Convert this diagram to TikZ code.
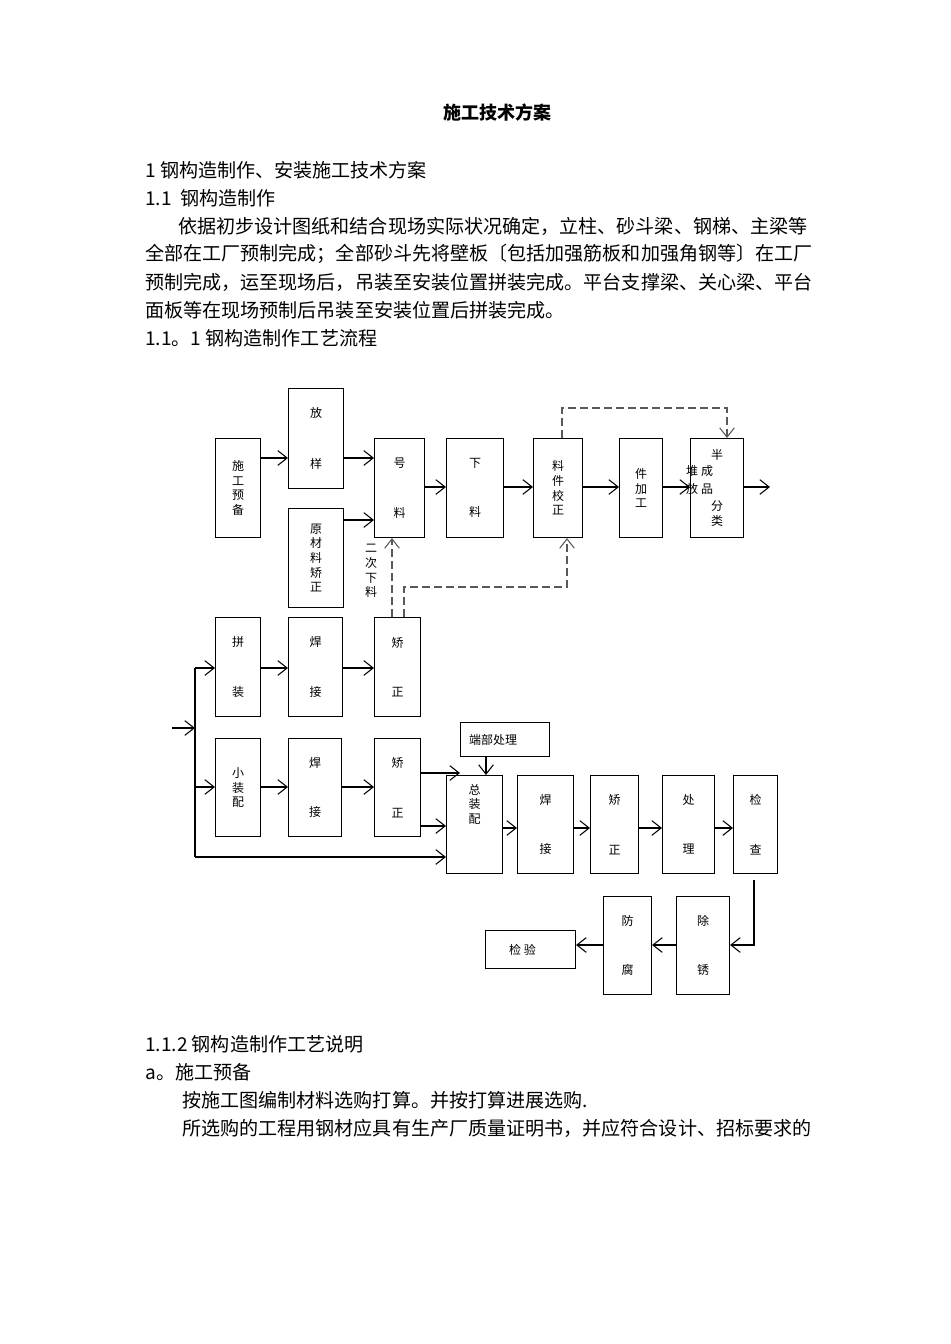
\documentclass[tikz,border=0pt]{standalone}
\usepackage{fontspec}
\setmainfont{Liberation Serif}
\newfontfamily\cjk{Noto Sans CJK SC}
\usetikzlibrary{arrows.meta}
\tikzset{
 box/.style={draw,thick,anchor=north west,inner sep=0pt,align=center,font=\cjk\fontsize{9}{11}\selectfont},
 arr/.style={draw,thick,-{Straight Barb[length=7pt,width=11pt]}},
 dsh/.style={draw,thick,dashed,dash pattern=on 6pt off 3pt,gray!70!black},
 dshar/.style={dsh,-{Straight Barb[length=7pt,width=11pt]}},
 body/.style={anchor=west,inner sep=0pt,font=\cjk\fontsize{14.3}{16}\selectfont},
 sm/.style={inner sep=0pt,font=\cjk\fontsize{9}{11}\selectfont}
}
\newcommand\bx[6]{\node[box,minimum width={(#4-#2)*0.75pt},minimum height={(#5-#3)*0.75pt}] (#1) at (#2,#3) {#6};}
\begin{document}
\begin{tikzpicture}[x=0.75pt,y=-0.75pt]
\useasboundingbox (0,0) rectangle (950,1344);
\node[font=\cjk\bfseries\fontsize{13.5}{15}\selectfont] (title) at (497,113) {施工技术方案};
\node[body] (l1) at (145,170) {1 钢构造制作、安装施工技术方案};
\node[body] (l2) at (145,198) {1.1\ \ 钢构造制作};
\node[body] (l3) at (178,226) {依据初步设计图纸和结合现场实际状况确定，立柱、砂斗梁、钢梯、主梁等};
\node[body] (l4) at (145,254) {全部在工厂预制完成；全部砂斗先将壁板〔包括加强筋板和加强角钢等〕在工厂};
\node[body] (l5) at (145,282) {预制完成，运至现场后，吊装至安装位置拼装完成。平台支撑梁、关心梁、平台};
\node[body] (l6) at (145,310) {面板等在现场预制后吊装至安装位置后拼装完成。};
\node[body] (l7) at (145,338) {1.1。1 钢构造制作工艺流程};
\node[body] (l8) at (145,1044) {1.1.2 钢构造制作工艺说明};
\node[body] (l9) at (145,1072) {a。施工预备};
\node[body] (l10) at (182,1100) {按施工图编制材料选购打算。并按打算进展选购.};
\node[body] (l11) at (182,1128) {所选购的工程用钢材应具有生产厂质量证明书，并应符合设计、招标要求的};
% row 1
\bx{sg}{215}{438}{260}{537}{施\\工\\预\\备}
\bx{fy}{288}{388}{343}{488}{放\\[27pt]样}
\bx{ycl}{288}{508}{343}{607}{原\\材\\料\\矫\\正}
\bx{hl}{374}{438}{424}{537}{号\\[26pt]料}
\bx{xl}{446}{438}{503}{537}{下\\[26pt]料}
\bx{ljjz}{533}{438}{582}{537}{料\\件\\校\\正}
\bx{jjg}{619}{438}{662}{537}{件\\加\\工}
\bx{bcp}{690}{438}{743}{537}{}
\node[sm] (t1) at (717,455) {半};
\node[sm] (t2) at (707,471) {成};
\node[sm] (t3) at (707,489) {品};
\node[sm] (t4) at (692,471) {堆};
\node[sm] (t5) at (692,489) {放};
\node[sm] (t6) at (717,506) {分};
\node[sm] (t7) at (717,521) {类};
\coordinate (out1) at (770,487);
\draw[arr] (sg.east|-0,458) -- (fy.west|-0,458);
\draw[arr] (fy.east|-0,458) -- (hl.west|-0,458);
\draw[arr] (ycl.east|-0,520) -- (hl.west|-0,520);
\draw[arr] (hl.east|-0,487) -- (xl.west|-0,487);
\draw[arr] (xl.east|-0,487) -- (ljjz.west|-0,487);
\draw[arr] (ljjz.east|-0,487) -- (jjg.west|-0,487);
\draw[arr] (jjg.east|-0,487) -- (bcp.west|-0,487);
\draw[arr] (bcp.east|-0,487) -- (out1);
\draw[dshar] (ljjz.north-|562,0) -- (562,408) -- (727,408) -- (bcp.north-|727,0);
% row 2
\bx{pz}{215}{617}{260}{716}{拼\\[26pt]装}
\bx{hj1}{288}{617}{342}{716}{焊\\[26pt]接}
\bx{jz1}{374}{617}{420}{716}{矫\\[26pt]正}
\draw[dshar] (jz1.north-|392,0) -- (hl.south-|392,0);
\draw[dshar] (jz1.north-|404,0) -- (404,587) -- (567,587) -- (ljjz.south-|567,0);
\node[sm,align=center] (ecxl) at (371,571) {二\\次\\下\\料};
% row 3
\bx{xzp}{215}{738}{260}{836}{小\\装\\配}
\bx{hj2}{288}{738}{341}{836}{焊\\[26pt]接}
\bx{jz2}{374}{738}{420}{836}{矫\\[26pt]正}
\bx{dbcl}{460}{722}{549}{756}{\hspace*{-18pt}端部处理}
\coordinate (in0) at (172,728);
\coordinate (sp) at (195,728);
\draw[arr] (in0) -- (sp);
\draw[thick] (195,668) -- (195,857);
\draw[arr] (195,668) -- (pz.west|-0,668);
\draw[arr] (195,787) -- (xzp.west|-0,787);
\draw[arr] (pz.east|-0,668) -- (hj1.west|-0,668);
\draw[arr] (hj1.east|-0,668) -- (jz1.west|-0,668);
\draw[arr] (xzp.east|-0,787) -- (hj2.west|-0,787);
\draw[arr] (hj2.east|-0,787) -- (jz2.west|-0,787);
% row 4
\bx{zzp}{446}{775}{502}{873}{总\\装\\配\\[20pt]}
\bx{hj3}{517}{775}{573}{873}{焊\\[26pt]接}
\bx{jz3}{590}{775}{638}{873}{矫\\[26pt]正}
\bx{cl}{662}{775}{714}{873}{处\\[26pt]理}
\bx{jc}{733}{775}{777}{873}{检\\[26pt]查}
\draw[arr] (jz2.east|-0,773) -- (dbcl.west|-0,773);
\draw[arr] (dbcl.south-|486,0) -- (zzp.north-|486,0);
\draw[arr] (jz2.east|-0,826) -- (zzp.west|-0,826);
\draw[arr] (195,857) -- (zzp.west|-0,857);
\draw[arr] (zzp.east|-0,828) -- (hj3.west|-0,828);
\draw[arr] (hj3.east|-0,828) -- (jz3.west|-0,828);
\draw[arr] (jz3.east|-0,828) -- (cl.west|-0,828);
\draw[arr] (cl.east|-0,828) -- (jc.west|-0,828);
% row 5
\bx{cx}{676}{896}{729}{994}{除\\[26pt]锈}
\bx{ff}{603}{896}{651}{994}{防\\[26pt]腐}
\bx{jy}{485}{930}{575}{968}{\hspace*{-12pt}检 验}
\draw[arr] (754,880) -- (754,945) -- (cx.east|-0,945);
\draw[arr] (cx.west|-0,945) -- (ff.east|-0,945);
\draw[arr] (ff.west|-0,945) -- (jy.east|-0,945);
\end{tikzpicture}
\end{document}
